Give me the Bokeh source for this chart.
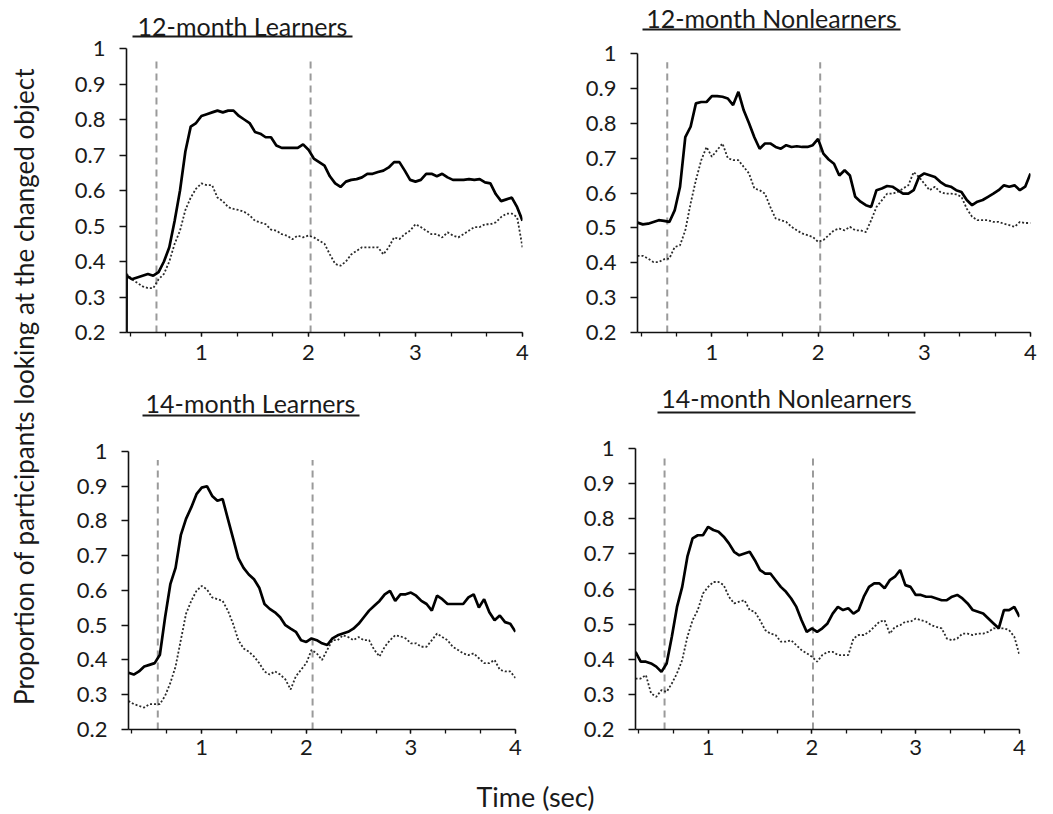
from bokeh.plotting import figure
from bokeh.models import Range1d, FixedTicker, Label, BoxAnnotation
from bokeh.layouts import row, column
from bokeh.embed import file_html
from bokeh.resources import INLINE

# ---------------- data ----------------
time_sec = [0.30, 0.35, 0.40, 0.45, 0.50, 0.55, 0.60, 0.65, 0.70, 0.75,
            0.80, 0.85, 0.90, 0.95, 1.00, 1.05, 1.10, 1.15, 1.20, 1.25,
            1.30, 1.35, 1.40, 1.45, 1.50, 1.55, 1.60, 1.65, 1.70, 1.75,
            1.80, 1.85, 1.90, 1.95, 2.00, 2.05, 2.10, 2.15, 2.20, 2.25,
            2.30, 2.35, 2.40, 2.45, 2.50, 2.55, 2.60, 2.65, 2.70, 2.75,
            2.80, 2.85, 2.90, 2.95, 3.00, 3.05, 3.10, 3.15, 3.20, 3.25,
            3.30, 3.35, 3.40, 3.45, 3.50, 3.55, 3.60, 3.65, 3.70, 3.75,
            3.80, 3.85, 3.90, 3.95, 4.00]

# 12-month learners starts with a jump from 0.2 at the very first sample
time_12L = [0.30, 0.301] + time_sec[1:]
solid_12L = [0.20, 0.36, 0.35, 0.355, 0.36, 0.365, 0.36, 0.37, 0.40, 0.44, 0.515,
             0.60, 0.71, 0.78, 0.79, 0.81, 0.815, 0.82, 0.825, 0.82, 0.825,
             0.825, 0.81, 0.80, 0.79, 0.765, 0.76, 0.75, 0.75, 0.727, 0.72,
             0.72, 0.72, 0.72, 0.73, 0.715, 0.69, 0.68, 0.67, 0.64, 0.62,
             0.61, 0.625, 0.63, 0.632, 0.637, 0.647, 0.647, 0.652, 0.656, 0.665,
             0.68, 0.68, 0.656, 0.63, 0.625, 0.63, 0.647, 0.647, 0.64, 0.647,
             0.637, 0.63, 0.63, 0.63, 0.632, 0.63, 0.632, 0.623, 0.62, 0.59,
             0.57, 0.575, 0.58, 0.553, 0.515]
dotted_12L = [0.365, 0.365, 0.35, 0.34, 0.33, 0.325, 0.325, 0.35, 0.365, 0.40, 0.45,
              0.487, 0.545, 0.58, 0.605, 0.62, 0.615, 0.615, 0.58, 0.57, 0.553,
              0.548, 0.545, 0.54, 0.53, 0.515, 0.51, 0.505, 0.49, 0.487, 0.477,
              0.473, 0.463, 0.473, 0.468, 0.473, 0.468, 0.459, 0.45, 0.42, 0.393,
              0.388, 0.40, 0.42, 0.43, 0.44, 0.44, 0.44, 0.44, 0.42, 0.44,
              0.468, 0.463, 0.477, 0.487, 0.505, 0.497, 0.487, 0.477, 0.477, 0.468,
              0.482, 0.473, 0.468, 0.477, 0.487, 0.497, 0.497, 0.505, 0.505, 0.51,
              0.525, 0.535, 0.535, 0.525, 0.44]

solid_12N = [0.515, 0.51, 0.512, 0.517, 0.522, 0.52, 0.517, 0.55, 0.617, 0.76,
             0.79, 0.857, 0.861, 0.861, 0.878, 0.878, 0.876, 0.871, 0.852, 0.89,
             0.837, 0.80, 0.76, 0.727, 0.742, 0.742, 0.732, 0.727, 0.737, 0.732,
             0.734, 0.732, 0.732, 0.737, 0.755, 0.713, 0.696, 0.684, 0.65, 0.665,
             0.65, 0.589, 0.575, 0.565, 0.56, 0.608, 0.613, 0.62, 0.618, 0.608,
             0.598, 0.598, 0.608, 0.646, 0.656, 0.651, 0.646, 0.632, 0.622, 0.618,
             0.608, 0.603, 0.58, 0.565, 0.575, 0.58, 0.589, 0.598, 0.608, 0.622,
             0.618, 0.622, 0.608, 0.618, 0.656]
dotted_12N = [0.42, 0.42, 0.412, 0.402, 0.402, 0.41, 0.412, 0.445, 0.45, 0.493,
              0.57, 0.637, 0.694, 0.732, 0.704, 0.723, 0.742, 0.70, 0.694, 0.694,
              0.675, 0.656, 0.613, 0.608, 0.598, 0.56, 0.527, 0.522, 0.517, 0.503,
              0.493, 0.484, 0.479, 0.474, 0.46, 0.465, 0.479, 0.493, 0.498, 0.493,
              0.503, 0.493, 0.493, 0.488, 0.522, 0.56, 0.579, 0.598, 0.598, 0.603,
              0.613, 0.622, 0.66, 0.646, 0.627, 0.608, 0.618, 0.603, 0.598, 0.598,
              0.596, 0.589, 0.555, 0.532, 0.522, 0.522, 0.522, 0.517, 0.517, 0.512,
              0.508, 0.503, 0.517, 0.514, 0.514]

solid_14L = [0.363, 0.358, 0.367, 0.381, 0.386, 0.391, 0.415, 0.523, 0.618, 0.665,
             0.759, 0.806, 0.839, 0.877, 0.896, 0.90, 0.872, 0.858, 0.863, 0.806,
             0.75, 0.693, 0.665, 0.646, 0.632, 0.608, 0.561, 0.547, 0.537, 0.523,
             0.50, 0.49, 0.481, 0.457, 0.452, 0.462, 0.457, 0.448, 0.443, 0.462,
             0.471, 0.476, 0.481, 0.49, 0.504, 0.523, 0.542, 0.556, 0.57, 0.589,
             0.599, 0.57, 0.589, 0.589, 0.594, 0.585, 0.57, 0.561, 0.542, 0.585,
             0.575, 0.561, 0.561, 0.561, 0.561, 0.58, 0.589, 0.551, 0.575, 0.537,
             0.514, 0.528, 0.509, 0.504, 0.481]
dotted_14L = [0.282, 0.273, 0.268, 0.263, 0.273, 0.273, 0.273, 0.297, 0.334, 0.381,
              0.457, 0.533, 0.57, 0.599, 0.613, 0.603, 0.58, 0.575, 0.57, 0.542,
              0.504, 0.457, 0.433, 0.424, 0.41, 0.391, 0.367, 0.358, 0.367, 0.358,
              0.344, 0.315, 0.353, 0.372, 0.391, 0.429, 0.419, 0.40, 0.429, 0.457,
              0.457, 0.471, 0.466, 0.457, 0.466, 0.457, 0.457, 0.429, 0.41, 0.438,
              0.457, 0.471, 0.468, 0.462, 0.448, 0.448, 0.438, 0.438, 0.457, 0.476,
              0.466, 0.457, 0.438, 0.429, 0.419, 0.414, 0.419, 0.405, 0.391, 0.391,
              0.40, 0.372, 0.367, 0.367, 0.348]

solid_14N = [0.421, 0.393, 0.393, 0.388, 0.379, 0.364, 0.388, 0.464, 0.549, 0.606,
             0.692, 0.744, 0.753, 0.753, 0.777, 0.768, 0.763, 0.749, 0.73, 0.706,
             0.696, 0.701, 0.706, 0.682, 0.654, 0.644, 0.644, 0.625, 0.606, 0.592,
             0.573, 0.549, 0.511, 0.478, 0.488, 0.478, 0.488, 0.502, 0.53, 0.549,
             0.54, 0.545, 0.53, 0.54, 0.578, 0.606, 0.616, 0.616, 0.602, 0.625,
             0.635, 0.654, 0.611, 0.606, 0.583, 0.583, 0.578, 0.578, 0.573, 0.568,
             0.568, 0.578, 0.583, 0.573, 0.559, 0.54, 0.535, 0.53, 0.516, 0.502,
             0.488, 0.54, 0.54, 0.549, 0.521]
dotted_14N = [0.345, 0.345, 0.355, 0.303, 0.293, 0.312, 0.307, 0.331, 0.36, 0.398,
              0.464, 0.511, 0.54, 0.587, 0.606, 0.62, 0.62, 0.611, 0.578, 0.559,
              0.564, 0.568, 0.54, 0.535, 0.511, 0.483, 0.473, 0.469, 0.45, 0.45,
              0.454, 0.44, 0.426, 0.417, 0.407, 0.393, 0.412, 0.421, 0.421, 0.412,
              0.412, 0.412, 0.459, 0.469, 0.469, 0.478, 0.492, 0.507, 0.511, 0.473,
              0.492, 0.497, 0.507, 0.507, 0.516, 0.511, 0.507, 0.497, 0.492, 0.488,
              0.459, 0.454, 0.459, 0.473, 0.473, 0.469, 0.473, 0.473, 0.478, 0.488,
              0.488, 0.488, 0.483, 0.464, 0.412]

# vertical reference (dashed) lines, in seconds
events_12L = [0.58, 2.02]
events_12N = [0.58, 2.02]
events_14L = [0.58, 2.06]
events_14N = [0.58, 2.01]

panel_titles = ["12-month Learners", "12-month Nonlearners",
                "14-month Learners", "14-month Nonlearners"]
x_tick_labels = [1, 2, 3, 4]
x_minor_ticks = [1/3, 2/3, 1, 4/3, 5/3, 2, 7/3, 8/3, 3, 10/3, 11/3, 4]
y_ticks = [0.2, 0.3, 0.4, 0.5, 0.6, 0.7, 0.8, 0.9, 1.0]
y_axis_title = "Proportion of participants looking at the changed object"
x_axis_title = "Time (sec)"

FONT = "Lato"
TXT = "#1a1a1a"


def panel(title, t, solid, dotted, events, w, h, bl, br, bb, px_top, px_bottom,
          title_x, title_y, ul_left, ul_right, ul_bottom, x_standoff):
    # frame starts at the figure top; the room above y=1 holds the title
    y_top = 1.0 + px_top * 0.8 / (px_bottom - px_top)
    p = figure(width=w, height=h, x_range=Range1d(0.3, 4.0), y_range=Range1d(0.2, y_top),
               output_backend="svg", toolbar_location=None,
               min_border_left=bl, min_border_right=br,
               min_border_top=0, min_border_bottom=bb)
    p.title = None
    p.outline_line_color = None
    p.grid.visible = False
    p.background_fill_color = "white"
    p.border_fill_color = "white"

    # axes
    p.xaxis.ticker = FixedTicker(ticks=x_tick_labels, minor_ticks=x_minor_ticks)
    p.yaxis.ticker = FixedTicker(ticks=y_ticks)
    p.yaxis.bounds = (0.2, 1.0)
    p.yaxis.major_label_overrides = {1: "1"}
    for ax in (p.xaxis, p.yaxis):
        ax.axis_line_color = "#111111"
        ax.axis_line_width = 1.6
        ax.major_tick_line_color = "#111111"
        ax.major_tick_line_width = 1.3
        ax.major_tick_in = 0
        ax.major_label_text_font = FONT
        ax.major_label_text_font_size = "22px"
        ax.major_label_text_color = TXT
    p.xaxis.major_tick_out = 4
    p.xaxis.minor_tick_out = 4
    p.xaxis.minor_tick_in = 0
    p.xaxis.minor_tick_line_color = "#111111"
    p.xaxis.minor_tick_line_width = 1.3
    p.xaxis.major_label_standoff = x_standoff
    p.yaxis.major_tick_out = 7
    p.yaxis.minor_tick_line_color = None
    p.yaxis.major_label_standoff = 14

    # dashed reference lines
    p.segment(x0=events, x1=events, y0=[0.2] * len(events), y1=[0.975] * len(events),
              line_color="#9a9a9a", line_width=2, line_dash="7 5")
    # series
    p.line(t, dotted, line_color="#2a2a2a", line_width=1.8, line_dash="2 2")
    p.line(t, solid, line_color="black", line_width=2.7)

    # underlined panel title
    p.add_layout(Label(x=title_x, y=title_y, x_units="screen", y_units="screen",
                       text=title, text_font=FONT, text_font_size="25px",
                       text_color=TXT, text_align="center", text_baseline="middle"))
    p.add_layout(BoxAnnotation(left=ul_left, right=ul_right, bottom=ul_bottom, top=ul_bottom + 2,
                               left_units="screen", right_units="screen",
                               bottom_units="screen", top_units="screen",
                               fill_color=TXT, fill_alpha=1.0, line_color=None))
    return p


# geometry: (w, h, border left, border right, border bottom, px of y=1 from figure top,
#            px of y=0.2 from figure top, title x/y, underline left/right/bottom, x label standoff)
p1 = panel(panel_titles[0], time_12L, solid_12L, dotted_12L, events_12L,
           527, 375, 78, 53, 43, 48, 332, 116, 307, 6, 226, 295, 8)
p2 = panel(panel_titles[1], time_sec, solid_12N, dotted_12N, events_12N,
           478, 375, 62, 23, 43, 53, 332, 134, 315, 5, 263, 302, 8)
p3 = panel(panel_titles[2], time_sec, solid_14L, dotted_14L, events_14L,
           527, 405, 80, 60, 46, 77, 359, 122, 327, 14, 231, 313, 6)
p4 = panel(panel_titles[3], time_sec, solid_14N, dotted_14N, events_14N,
           478, 405, 60, 34, 51, 73, 354, 151, 332, 22, 280, 316, 6)


def strip(w, h):
    s = figure(width=w, height=h, output_backend="svg", toolbar_location=None,
               x_axis_location=None, y_axis_location=None,
               min_border_left=0, min_border_right=0, min_border_top=0, min_border_bottom=0,
               x_range=Range1d(0, 1), y_range=Range1d(0, 1))
    s.title = None
    s.outline_line_color = None
    s.grid.visible = False
    return s


ystrip = strip(48, 780)
ystrip.add_layout(Label(x=23, y=394, x_units="screen", y_units="screen",
                        text=y_axis_title, angle=90, angle_units="deg",
                        text_font=FONT, text_font_size="26px", text_color=TXT,
                        text_align="center", text_baseline="middle"))

xstrip = strip(1053, 34)
xstrip.add_layout(Label(x=535, y=18, x_units="screen", y_units="screen",
                        text=x_axis_title, text_font=FONT, text_font_size="27px",
                        text_color=TXT, text_align="center", text_baseline="middle"))

layout = column(row(ystrip, column(row(p1, p2), row(p3, p4))), xstrip)

open("out.html", "w").write(file_html(layout, INLINE))
